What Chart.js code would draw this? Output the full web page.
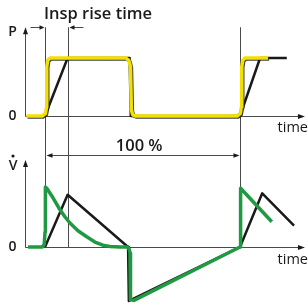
<!DOCTYPE html>
<html>
<head>
<meta charset="utf-8">
<script src="https://cdn.jsdelivr.net/npm/chart.js@4.4.1/dist/chart.umd.min.js"></script>
<style>
html,body{margin:0;padding:0;background:#fff;}
#wrap{width:308px;height:305px;}
</style>
</head>
<body>
<div id="wrap"><canvas id="c" width="308" height="305"></canvas></div>
<script>
// time in % of one breath cycle (0 = start of inspiration, 100 = next breath)
const pressureSetTime  = [-9.5,-1.5,0.2,0.8,0.9,1.4,2.6,41.5,43.0,43.8,44.3,45.0,46.5,98.5,100.1,100.7,100.9,101.4,102.5,114.4];
const pressureSetValue = [0,0,0.04,0.15,0.85,0.96,1.0,1.0,0.96,0.85,0.1,0.02,0,0,0.04,0.15,0.85,0.96,1.0,1.0];

const pressureRiseTime  = [0,11.6,43.4,44.0,100,110.3,124];
const pressureRiseValue = [0,1,1,0,0,1,1];

const flowSetTime  = [-8.7,-1.5,-0.4,0,0.2,0.9,4.1,7.7,10.3,12.8,16.9,21.4,25.6,29.7,33.3,38.5,42.4,43.2,43.6,43.6,44.1,45.6,100,100.3,116.3];
const flowSetValue = [0,0,0.04,0.25,1.0,0.98,0.82,0.62,0.5,0.4,0.27,0.17,0.083,0.03,0.01,0,0,-0.04,-0.1,-0.83,-0.88,-0.89,0,0.98,0.42];

const flowRiseTime  = [0,11.6,42.6,43.0,99.4,100,111.4,127.7];
const flowRiseValue = [0,0.87,0,-0.9,-0.01,0,0.895,0.355];

const cycleMarks = [0, 11.6, 100];        // insp start, end of rise time, next insp
const axisStartTime = -10.3, axisEndTime = 133.3;
const guideTopP = 1.53;
const labels = {P:'P', V:'V', zero:'0', time:'time', rise:'Insp rise time', cycle:'100 %'};

const toXY = (t, v) => t.map((x, i) => ({x, y: v[i]}));

function arrow(ctx, x, y, dir, len, half) {
  ctx.beginPath();
  if (dir === 'up') { ctx.moveTo(x, y); ctx.lineTo(x - half, y + len); ctx.lineTo(x + half, y + len); }
  else if (dir === 'right') { ctx.moveTo(x, y); ctx.lineTo(x - len, y - half); ctx.lineTo(x - len, y + half); }
  else { ctx.moveTo(x, y); ctx.lineTo(x + len, y - half); ctx.lineTo(x + len, y + half); }
  ctx.closePath(); ctx.fill();
}

const shadowPlugin = {
  id: 'shadow',
  beforeDatasetDraw(chart, args) {
    if (args.meta._dataset.shadow) {
      const ctx = chart.ctx; ctx.save();
      ctx.shadowColor = 'rgba(30,30,30,0.85)'; ctx.shadowOffsetX = 1; ctx.shadowOffsetY = 1; ctx.shadowBlur = 0.5;
    }
  },
  afterDatasetDraw(chart, args) {
    if (args.meta._dataset.shadow) chart.ctx.restore();
  }
};

const framePlugin = {
  id: 'frame',
  beforeDatasetsDraw(chart) {
    const {ctx, scales: {x, yP, yF}} = chart;
    const x0 = x.getPixelForValue(axisStartTime), x1 = x.getPixelForValue(axisEndTime);
    const p0 = yP.getPixelForValue(0), pTop = yP.getPixelForValue(guideTopP);
    const f0 = yF.getPixelForValue(0), fTop = yF.getPixelForValue(1.45);
    ctx.save();
    ctx.strokeStyle = '#4a4a4a'; ctx.fillStyle = '#1a1a1a'; ctx.lineWidth = 1;
    // guide lines
    cycleMarks.forEach(t => {
      const px = Math.round(x.getPixelForValue(t)) + 0.5;
      ctx.beginPath(); ctx.moveTo(px, pTop); ctx.lineTo(px, f0); ctx.stroke();
    });
    // axes
    const ax = Math.round(x0) + 0.5;
    [[p0, pTop], [f0, fTop]].forEach(([zero, top]) => {
      const zy = Math.round(zero) + 0.5;
      ctx.beginPath(); ctx.moveTo(ax, zy); ctx.lineTo(ax, top + 5); ctx.stroke();
      ctx.beginPath(); ctx.moveTo(ax, zy); ctx.lineTo(x1 - 5, zy); ctx.stroke();
      arrow(ctx, ax, top, 'up', 7, 2.5);
      arrow(ctx, x1, zy, 'right', 7, 2.5);
    });
    // rise-time arrows
    const ra = Math.round(x.getPixelForValue(cycleMarks[0])) + 0.5;
    const rb = Math.round(x.getPixelForValue(cycleMarks[1])) + 0.5;
    const ay = Math.round(pTop) + 0.5;
    ctx.beginPath(); ctx.moveTo(ra - 15, ay); ctx.lineTo(ra - 3, ay); ctx.stroke();
    arrow(ctx, ra - 1, ay, 'right', 5, 2.2);
    ctx.beginPath(); ctx.moveTo(rb + 15, ay); ctx.lineTo(rb + 3, ay); ctx.stroke();
    arrow(ctx, rb + 1, ay, 'left', 5, 2.2);
    // 100 % arrow
    const c1 = Math.round(x.getPixelForValue(cycleMarks[2])) + 0.5;
    const cy = Math.round(yF.getPixelForValue(1.53)) + 0.5;
    ctx.beginPath(); ctx.moveTo(ra + 3, cy); ctx.lineTo(c1 - 3, cy); ctx.stroke();
    arrow(ctx, ra + 1, cy, 'left', 6, 2.2);
    arrow(ctx, c1 - 1, cy, 'right', 6, 2.2);
    ctx.restore();
  },
  afterDraw(chart) {
    const {ctx, scales: {x, yP, yF}} = chart;
    ctx.save();
    ctx.fillStyle = '#1a1a1a';
    ctx.textBaseline = 'middle';
    ctx.font = '600 16.5px "Open Sans", sans-serif';
    ctx.textAlign = 'left';
    ctx.fillText(labels.rise, x.getPixelForValue(0) - 1, 14);
    ctx.textAlign = 'center';
    ctx.fillText(labels.cycle, x.getPixelForValue(48.3), yF.getPixelForValue(1.68));
    ctx.font = '600 14px "Open Sans", sans-serif';
    ctx.fillText(labels.P, 12.5, yP.getPixelForValue(1.45));
    const vy = yF.getPixelForValue(1.35);
    ctx.fillText(labels.V, 13, vy);
    ctx.beginPath(); ctx.arc(13, vy - 10, 1.6, 0, Math.PI * 2); ctx.fill();
    ctx.fillText(labels.zero, 12.5, yP.getPixelForValue(0));
    ctx.fillText(labels.zero, 12.5, yF.getPixelForValue(0));
    ctx.font = '14.5px "Open Sans", sans-serif';
    ctx.textAlign = 'right';
    ctx.fillText(labels.time, 308, yP.getPixelForValue(-0.21));
    ctx.fillText(labels.time, 308, yF.getPixelForValue(-0.22));
    ctx.restore();
  }
};

new Chart(document.getElementById('c'), {
  type: 'line',
  data: {
    datasets: [
      {data: toXY(pressureSetTime, pressureSetValue), yAxisID: 'yP', borderColor: '#f4e000', borderWidth: 3.5, order: 0, shadow: true},
      {data: toXY(pressureRiseTime, pressureRiseValue), yAxisID: 'yP', borderColor: '#1a1a1a', borderWidth: 2.5, order: 1},
      {data: toXY(flowSetTime, flowSetValue), yAxisID: 'yF', borderColor: '#1f9a42', borderWidth: 3.5, order: 0},
      {data: toXY(flowRiseTime, flowRiseValue), yAxisID: 'yF', borderColor: '#1a1a1a', borderWidth: 2.5, order: 1}
    ]
  },
  options: {
    responsive: false,
    animation: false,
    devicePixelRatio: 1,
    layout: {padding: 0},
    elements: {point: {radius: 0}, line: {tension: 0, borderJoinStyle: 'round', borderCapStyle: 'butt'}},
    plugins: {legend: {display: false}, tooltip: {enabled: false}},
    scales: {
      x: {type: 'linear', min: -23.077, max: 134.87, display: false},
      yP: {type: 'linear', position: 'left', min: -3.2586, max: 2, display: false},
      yF: {type: 'linear', position: 'left', min: -0.9667, max: 4.1167, display: false}
    }
  },
  plugins: [shadowPlugin, framePlugin]
});
</script>
</body>
</html>
